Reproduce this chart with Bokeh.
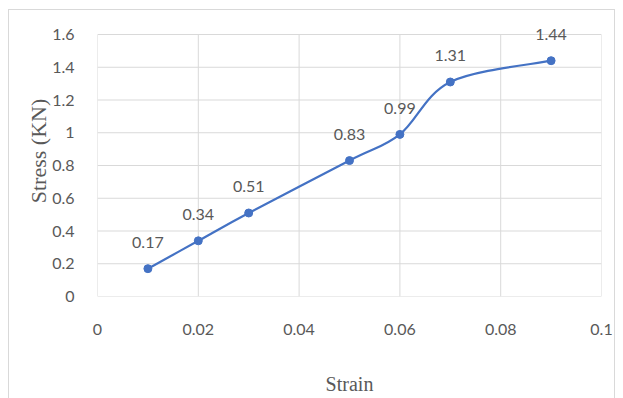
from bokeh.plotting import figure
from bokeh.models import (ColumnDataSource, FixedTicker, CustomJSTickFormatter, Range1d,
                          LabelSet, InlineStyleSheet, LinearAxis)
from bokeh.core.properties import value
from bokeh.embed import file_html
from bokeh.resources import INLINE

# data
strain = [0.01, 0.02, 0.03, 0.05, 0.06, 0.07, 0.09]
stress = [0.17, 0.34, 0.51, 0.83, 0.99, 1.31, 1.44]
point_labels = ["0.17", "0.34", "0.51", "0.83", "0.99", "1.31", "1.44"]
x_ticks = [0, 0.02, 0.04, 0.06, 0.08, 0.1]
x_tick_labels = ["0", "0.02", "0.04", "0.06", "0.08", "0.1"]
y_ticks = [0, 0.2, 0.4, 0.6, 0.8, 1.0, 1.2, 1.4, 1.6]
y_tick_labels = ["0", "0.2", "0.4", "0.6", "0.8", "1", "1.2", "1.4", "1.6"]

GRID = "#d9d9d9"
TEXT = "#595959"
LINE = "#4472C4"
SANS = "Lato"
SERIF = "Liberation Serif"

# frame: plot area spans 0..1.6 over 262 px; extra headroom above keeps the top data label visible
FRAME_H = 291
y_view_max = y_ticks[-1] * FRAME_H / 262

p = figure(width=623, height=398, output_backend="svg", toolbar_location=None,
           x_range=Range1d(x_ticks[0], x_ticks[-1]), y_range=Range1d(0, y_view_max),
           min_border_left=97, min_border_right=22, min_border_top=398 - 102 - FRAME_H,
           min_border_bottom=102)
p.outline_line_color = None
p.background_fill_color = "white"
p.border_fill_color = "white"
p.stylesheets = [InlineStyleSheet(css=(
    ":host::after { content: ''; position: absolute; left: 8px; top: 9px; right: 8px; bottom: 0px;"
    " border-top: 1px solid #d9d9d9; border-left: 1px solid #d9d9d9; border-right: 1px solid #d9d9d9;"
    " pointer-events: none; z-index: 10; }"))]

# grid lines, drawn from the tick arrays so that they stop at the plot area's top (1.6)
vg = ColumnDataSource(dict(x=x_ticks, y0=[y_ticks[0]] * len(x_ticks), y1=[y_ticks[-1]] * len(x_ticks)))
hg = ColumnDataSource(dict(y=y_ticks, x0=[x_ticks[0]] * len(y_ticks), x1=[x_ticks[-1]] * len(y_ticks)))
p.segment(x0="x", y0="y0", x1="x", y1="y1", source=vg, line_color=GRID, line_width=1)
p.segment(x0="x0", y0="y", x1="x1", y1="y", source=hg, line_color=GRID, line_width=1)

# smooth (Catmull-Rom style) bezier segments computed from the data
n = len(strain)
x0, y0, x1, y1, cx0, cy0, cx1, cy1 = [], [], [], [], [], [], [], []
for i in range(n - 1):
    pm = i - 1 if i > 0 else i
    pp = i + 2 if i + 2 < n else i + 1
    x0.append(strain[i]); y0.append(stress[i])
    x1.append(strain[i + 1]); y1.append(stress[i + 1])
    cx0.append(strain[i] + (strain[i + 1] - strain[pm]) / 6)
    cy0.append(stress[i] + (stress[i + 1] - stress[pm]) / 6)
    cx1.append(strain[i + 1] - (strain[pp] - strain[i]) / 6)
    cy1.append(stress[i + 1] - (stress[pp] - stress[i]) / 6)
bz = ColumnDataSource(dict(x0=x0, y0=y0, x1=x1, y1=y1, cx0=cx0, cy0=cy0, cx1=cx1, cy1=cy1))
p.bezier(x0="x0", y0="y0", x1="x1", y1="y1", cx0="cx0", cy0="cy0", cx1="cx1", cy1="cy1",
         source=bz, line_color=LINE, line_width=2.2)

src = ColumnDataSource(dict(x=strain, y=stress, lab=point_labels))
p.scatter("x", "y", source=src, size=8, fill_color=LINE, line_color=LINE)
p.add_layout(LabelSet(x="x", y="y", text="lab", source=src, text_font=value(SANS),
                      text_font_size="16px", text_color=TEXT, text_align="center",
                      text_baseline="middle", y_offset=26))

fmt_code = """
let best = 0, d = 1e9;
for (let i = 0; i < tv.length; i++) {
  const dd = Math.abs(tv[i] - tick);
  if (dd < d) { d = dd; best = i; }
}
return tl[best];
"""
p.xaxis.ticker = FixedTicker(ticks=x_ticks)
p.yaxis.ticker = FixedTicker(ticks=y_ticks)
p.xaxis.formatter = CustomJSTickFormatter(args=dict(tv=x_ticks, tl=x_tick_labels), code=fmt_code)
p.yaxis.formatter = CustomJSTickFormatter(args=dict(tv=y_ticks, tl=y_tick_labels), code=fmt_code)
p.yaxis.bounds = (y_ticks[0], y_ticks[-1])

for ax in (p.xaxis[0], p.yaxis[0]):
    ax.axis_line_color = None
    ax.major_tick_line_color = None
    ax.minor_tick_line_color = None
    ax.major_label_text_font = SANS
    ax.major_label_text_font_size = "16px"
    ax.major_label_text_color = TEXT
    ax.axis_label_text_font = SERIF
    ax.axis_label_text_font_style = "normal"
    ax.axis_label_text_color = TEXT

p.yaxis.axis_label = "Stress (KN)"
p.yaxis.axis_label_text_font_size = "22px"
p.xaxis.major_label_standoff = 21
p.yaxis.major_label_standoff = 17
p.yaxis.axis_label_standoff = -2

# a second, tick-less bottom axis carries the x title; its bounds place the title slightly left of centre
title_axis = LinearAxis(ticker=FixedTicker(ticks=[]), bounds=(0, 0.0929),
                        axis_label="Strain", axis_label_standoff=35,
                        axis_label_text_font=SERIF, axis_label_text_font_size="20px",
                        axis_label_text_font_style="normal", axis_label_text_color=TEXT,
                        axis_line_color=None, major_tick_line_color=None, minor_tick_line_color=None,
                        major_tick_out=0, minor_tick_out=0, major_label_standoff=0)
p.add_layout(title_axis, "below")

p.xgrid.visible = False
p.ygrid.visible = False

open("out.html", "w").write(file_html(p, INLINE))
